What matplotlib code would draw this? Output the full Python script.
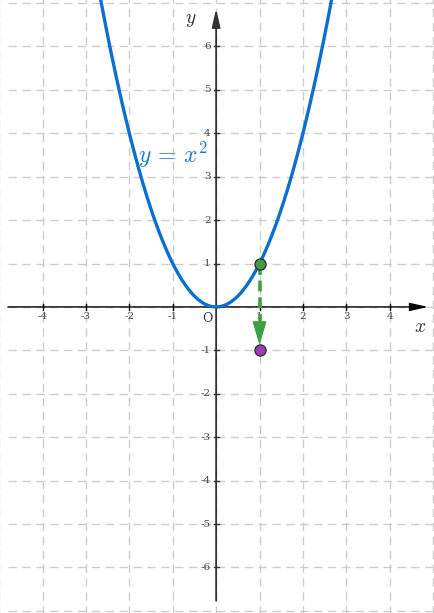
import matplotlib.pyplot as plt
import numpy as np

plt.rcParams['mathtext.fontset'] = 'cm'

# data
x_ticks = [-4, -3, -2, -1, 1, 2, 3, 4]
y_ticks = [-6, -5, -4, -3, -2, -1, 1, 2, 3, 4, 5, 6]
curve_range = [-2.7, 2.7]
point_on_curve = (1, 1)
reflected_point = (1, -1)

fig = plt.figure(figsize=(4.34, 6.13), dpi=100)
ax = fig.add_axes([0, 0, 1, 1])
ax.set_xlim(-4.98, 5.02)
ax.set_ylim(-7.05, 7.07)
ax.axis('off')

grid_kw = dict(color='#cccccc', lw=1.0, ls=(0, (6, 4)), zorder=0)
for gx in range(-5, 6):
    ax.plot([gx, gx], [-7.1, 7.1], **grid_kw)
for gy in range(-7, 8):
    ax.plot([-4.8, 5.1], [gy, gy], **grid_kw)

# axes with arrows
ax.annotate('', xy=(4.88, 0), xytext=(-4.8, 0),
            arrowprops=dict(arrowstyle='-|>,head_length=1.1,head_width=0.25',
                            color='black', lw=1.0, shrinkA=0, shrinkB=0), zorder=3)
ax.annotate('', xy=(0, 6.87), xytext=(0, -6.77),
            arrowprops=dict(arrowstyle='-|>,head_length=1.1,head_width=0.25',
                            color='#333333', lw=1.3, shrinkA=0, shrinkB=0), zorder=3)

tick_font = dict(family='DejaVu Serif', fontsize=7.5, color='#444444')
for t in x_ticks:
    ax.plot([t, t], [-0.06, 0.06], color='black', lw=1, zorder=3)
    ax.text(t, -0.23, str(t), ha='center', va='center', **tick_font)
for t in y_ticks:
    ax.plot([-0.06, 0.06], [t, t], color='#333333', lw=1, zorder=3)
    ax.text(-0.13, t, str(t), ha='right', va='center', **tick_font)
ax.text(-0.2, -0.27, 'O', ha='center', va='center', family='DejaVu Serif',
        fontsize=9, color='#333333')
ax.text(4.7, -0.45, '$x$', ha='center', va='center', fontsize=14, color='#333333')
ax.text(-0.58, 6.62, '$y$', ha='center', va='center', fontsize=14, color='#333333')

# parabola
xs = np.linspace(curve_range[0], curve_range[1], 300)
ax.plot(xs, xs ** 2, color='#0b6fd0', lw=2.4, zorder=4)
ax.text(-1.8, 3.5, '$y\\,=\\,x^2$', color='#1a78d6', fontsize=17,
        ha='left', va='center', zorder=5)

# green dashed arrow
ax.plot([point_on_curve[0], reflected_point[0]], [point_on_curve[1], -0.35],
        color='#3ea044', lw=2.6, ls=(0, (3, 1.6)), zorder=5)
ax.annotate('', xy=(reflected_point[0], reflected_point[1] + 0.12),
            xytext=(reflected_point[0], -0.35),
            arrowprops=dict(arrowstyle='-|>,head_length=1.5,head_width=0.45',
                            color='#3ea044', lw=1,
                            shrinkA=0, shrinkB=0), zorder=5)
ax.plot(*point_on_curve, 'o', ms=8, mfc='#3ea044', mec='#333333', mew=1, zorder=6)
ax.plot(*reflected_point, 'o', ms=8, mfc='#9b3fb5', mec='#333333', mew=1, zorder=6)

fig.savefig('out.png', dpi=100)
